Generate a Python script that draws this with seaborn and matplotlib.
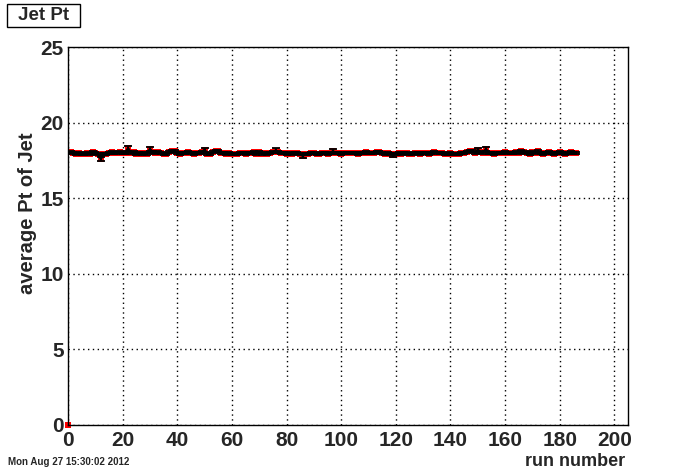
import numpy as np
import pandas as pd
import matplotlib
matplotlib.use("Agg")
import matplotlib.pyplot as plt
import seaborn as sns
from matplotlib.ticker import MultipleLocator
from matplotlib.patches import Rectangle

# Valores (média de Pt por run)
run_number = list(range(1, 187))
avg_pt = [
    18.05, 18.0, 17.95, 18.0, 17.95, 17.95, 18.0, 17.95, 18.05, 18.0,
    17.95, 17.6, 17.95, 17.95, 18.0, 18.05, 18.0, 18.0, 18.05, 18.0,
    18.0, 18.3, 18.0, 18.05, 17.95, 18.0, 17.9, 18.0, 17.95, 18.25,
    18.05, 18.0, 18.05, 18.0, 17.9, 17.95, 18.05, 18.15, 18.1, 18.0,
    17.95, 18.0, 18.0, 18.05, 18.0, 17.95, 18.0, 18.0, 18.05, 18.2,
    17.95, 17.95, 18.05, 18.1, 18.15, 18.0, 18.0, 17.95, 18.0, 17.95,
    17.9, 17.95, 18.0, 18.0, 17.95, 18.0, 18.0, 18.05, 17.95, 18.05,
    17.95, 18.0, 17.95, 18.0, 18.05, 18.15, 18.05, 18.0, 18.0, 17.95,
    18.0, 17.95, 18.0, 18.0, 17.9, 17.8, 17.95, 17.95, 18.0, 18.0,
    17.95, 17.95, 18.0, 18.0, 17.95, 18.0, 18.1, 18.0, 18.0, 17.95,
    18.0, 18.0, 18.0, 18.0, 18.0, 17.95, 18.0, 18.0, 18.05, 18.0,
    18.0, 18.0, 18.05, 18.05, 18.0, 17.95, 18.0, 17.95, 17.85, 17.95,
    18.0, 17.95, 18.0, 18.0, 17.95, 17.95, 18.0, 18.0, 17.95, 18.0,
    18.0, 17.95, 18.0, 18.05, 18.0, 18.0, 18.0, 17.95, 17.95, 18.0,
    17.9, 17.95, 17.95, 18.0, 18.0, 18.05, 18.1, 18.1, 18.0, 18.2,
    18.05, 18.0, 18.25, 18.0, 18.0, 17.95, 18.0, 18.0, 18.0, 18.05,
    18.0, 18.0, 18.0, 18.05, 18.0, 18.1, 18.05, 18.0, 17.95, 18.05,
    18.0, 18.1, 18.0, 17.95, 18.0, 18.05, 18.0, 17.95, 18.0, 18.05,
    18.0, 17.95, 18.0, 18.05, 18.0, 18.0,
]
# erros: pequenos na maioria, maiores nos pontos fora da linha
big_err_runs = [12, 22, 30, 50, 76, 86, 97, 119, 150, 153]
pt_err = [0.15 if r in big_err_runs else 0.07 for r in run_number]

df = pd.DataFrame({"run": run_number, "pt": avg_pt, "err": pt_err})

sns.set_style("white")
plt.rcParams["font.family"] = ["Liberation Sans", "DejaVu Sans"]
plt.rcParams["font.weight"] = "bold"

fig = plt.figure(figsize=(6.96, 4.72), dpi=100)
ax = fig.add_axes([68 / 696, 47 / 472, 560 / 696, 378 / 472])

# marcadores vermelhos por baixo, linha e barras de erro em preto por cima
sns.scatterplot(x=[0] + run_number, y=[0] + avg_pt, color="red", marker="s", s=13,
                linewidth=0, ax=ax, zorder=2, clip_on=False)
sns.lineplot(data=df, x="run", y="pt", color="black", linewidth=1.8, ax=ax, zorder=3)
ax.errorbar(df["run"], df["pt"], yerr=df["err"], fmt="none", ecolor="black",
            elinewidth=1.3, capsize=3, capthick=1.3, zorder=4)

ax.set_xlim(0, 205)
ax.set_ylim(0, 25)
ax.xaxis.set_major_locator(MultipleLocator(20))
ax.xaxis.set_minor_locator(MultipleLocator(4))
ax.yaxis.set_major_locator(MultipleLocator(5))
ax.yaxis.set_minor_locator(MultipleLocator(1))
ax.tick_params(which="major", direction="in", length=12, width=1, labelsize=15,
               top=False, right=False)
ax.tick_params(axis="x", pad=4)
ax.tick_params(axis="y", pad=3)
ax.tick_params(which="minor", direction="in", length=6, width=1, top=False, right=False)
for lab in ax.get_xticklabels() + ax.get_yticklabels():
    lab.set_fontweight("bold")

ax.grid(True, which="major", color="black", linestyle=(0, (1, 2.5)), linewidth=1)
for s in ax.spines.values():
    s.set_color("black")
    s.set_linewidth(1)

ax.set_xlabel("")
ax.set_ylabel("")
fig.text(625 / 696, 1 - 461 / 472, "run number", ha="right", va="center",
         fontsize=13, fontweight="bold")
fig.text(28 / 696, 1 - 133 / 472, "average Pt of Jet", ha="center", va="top",
         rotation=90, fontsize=14.5, fontweight="bold")
fig.text(8 / 696, 1 - 462 / 472, "Mon Aug 27 15:30:02 2012", ha="left", va="center",
         fontsize=7, fontweight="bold")

# caixa do título
fig.patches.append(Rectangle((7 / 696, 1 - 27 / 472), 73 / 696, 23 / 472,
                             transform=fig.transFigure, facecolor="white",
                             edgecolor="black", linewidth=1))
fig.text(43.5 / 696, 1 - 15.5 / 472, "Jet Pt", ha="center", va="center",
         fontsize=13.5, fontweight="bold")

fig.savefig("out.png", dpi=100)
